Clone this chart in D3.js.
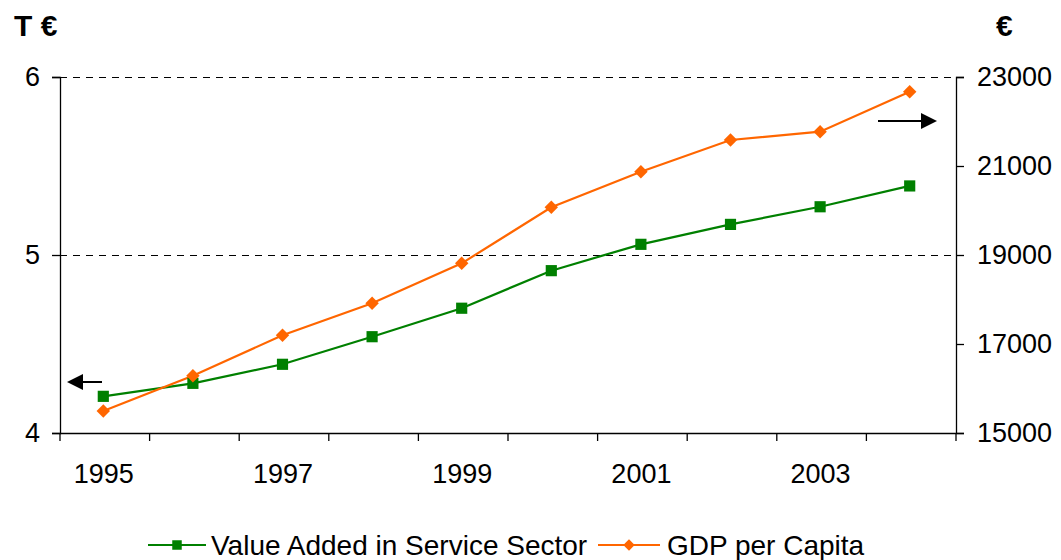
<!DOCTYPE html>
<html>
<head>
<meta charset="utf-8">
<script src="https://cdn.jsdelivr.net/npm/d3@7"></script>
<style>
  html, body { margin: 0; padding: 0; background: #fff; }
  svg { display: block; font-family: "Liberation Sans", Arial, sans-serif; }
</style>
</head>
<body>
<svg id="chart" width="1061" height="560"></svg>
<script>
// ---- data ----
const years = ["1995","1996","1997","1998","1999","2000","2001","2002","2003","2004"];
const valueAdded = [4.206, 4.279, 4.386, 4.541, 4.701, 4.912, 5.060, 5.172, 5.271, 5.388]; // T €
const gdpPerCapita = [15494, 16288, 17196, 17915, 18813, 20072, 20872, 21584, 21771, 22670]; // €
const leftTicks = [4, 5, 6];
const rightTicks = [15000, 17000, 19000, 21000, 23000];
const xLabelYears = ["1995","1997","1999","2001","2003"];
const seriesNames = ["Value Added in Service Sector", "GDP per Capita"];

(function () {
// ---- layout ----
const svg = d3.select("#chart");
const pLeft = 60, pRight = 956, pTop = 77, pBottom = 433;
const green = "#008000", orange = "#FF6600";

const x = d3.scaleBand().domain(years).range([pLeft, pRight]).padding(0);
const yL = d3.scaleLinear().domain([4, 6]).range([pBottom, pTop]);
const yR = d3.scaleLinear().domain([15000, 23000]).range([pBottom, pTop]);

// gridlines (dashed) at 5 and 6
svg.append("g").selectAll("line").data([5, 6]).join("line")
  .attr("x1", pLeft).attr("x2", pRight)
  .attr("y1", d => yL(d) + 0.5).attr("y2", d => yL(d) + 0.5)
  .attr("stroke", "#000").attr("stroke-width", 1)
  .attr("stroke-dasharray", "7,6");

// left axis
const axL = svg.append("g").attr("transform", `translate(${pLeft},0)`)
  .call(d3.axisLeft(yL).tickValues(leftTicks).tickFormat(d3.format("d")).tickSize(8).tickPadding(12));
// right axis
const axR = svg.append("g").attr("transform", `translate(${pRight},0)`)
  .call(d3.axisRight(yR).tickValues(rightTicks).tickFormat(d3.format("d")).tickSize(8).tickPadding(13));
[axL, axR].forEach(a => {
  a.select(".domain").attr("stroke", "#000").attr("stroke-width", 1.3);
  a.selectAll(".tick line").attr("stroke", "#000").attr("stroke-width", 1.3);
  a.selectAll("text").attr("font-size", 27).attr("fill", "#000").attr("font-family", "Liberation Sans, Arial, sans-serif");
});

// x axis
svg.append("line").attr("x1", pLeft).attr("x2", pRight).attr("y1", pBottom + 0.5).attr("y2", pBottom + 0.5)
  .attr("stroke", "#000").attr("stroke-width", 1.3);
const boundaries = years.map(d => x(d)).concat([pRight]);
svg.append("g").selectAll("line").data(boundaries).join("line")
  .attr("x1", d => d).attr("x2", d => d).attr("y1", pBottom).attr("y2", pBottom + 8)
  .attr("stroke", "#000").attr("stroke-width", 1.3);
svg.append("g").selectAll("text").data(xLabelYears).join("text")
  .attr("x", d => x(d) + x.bandwidth() / 2 - 1)
  .attr("y", 483)
  .attr("text-anchor", "middle")
  .attr("font-size", 27)
  .text(d => d);

// axis unit titles
svg.append("text").attr("x", 14).attr("y", 36).attr("font-size", 30).attr("font-weight", "bold").text("T €");
svg.append("text").attr("x", 996).attr("y", 36).attr("font-size", 30).attr("font-weight", "bold").text("€");

// lines
const cx = d => x(d) + x.bandwidth() / 2 - 1.5;
const lineL = d3.line().x((d, i) => cx(years[i])).y(d => yL(d));
const lineR = d3.line().x((d, i) => cx(years[i])).y(d => yR(d));

svg.append("path").datum(valueAdded).attr("d", lineL)
  .attr("fill", "none").attr("stroke", green).attr("stroke-width", 2.2);
svg.append("path").datum(gdpPerCapita).attr("d", lineR)
  .attr("fill", "none").attr("stroke", orange).attr("stroke-width", 2.2);

const sq = d3.symbol().type(d3.symbolSquare).size(125);
const dia = d3.symbol().type(d3.symbolSquare).size(90); // rotated 45° to form a square diamond

svg.append("g").selectAll("path").data(valueAdded).join("path")
  .attr("d", sq)
  .attr("transform", (d, i) => `translate(${cx(years[i])},${yL(d)})`)
  .attr("fill", green);
svg.append("g").selectAll("path").data(gdpPerCapita).join("path")
  .attr("d", dia)
  .attr("transform", (d, i) => `translate(${cx(years[i])},${yR(d)}) rotate(45)`)
  .attr("fill", orange);

// direction arrows
function arrow(x1, x2, y) {
  const dir = Math.sign(x2 - x1);
  const headLen = 16, headHalf = 8;
  svg.append("line").attr("x1", x1).attr("x2", x2 - dir * headLen + dir * 2).attr("y1", y).attr("y2", y)
    .attr("stroke", "#000").attr("stroke-width", 2);
  svg.append("path")
    .attr("d", `M${x2},${y} L${x2 - dir * headLen},${y - headHalf} L${x2 - dir * headLen},${y + headHalf} Z`)
    .attr("fill", "#000");
}
arrow(102, 67, 382);
arrow(878, 937, 121);

// legend
const legY = 545;
const legend = [
  { name: seriesNames[0], color: green, sym: sq, rot: 0, x1: 148, x2: 206, tx: 211 },
  { name: seriesNames[1], color: orange, sym: dia, rot: 45, x1: 598, x2: 660, tx: 667 }
];
legend.forEach(l => {
  svg.append("line").attr("x1", l.x1).attr("x2", l.x2).attr("y1", legY).attr("y2", legY)
    .attr("stroke", l.color).attr("stroke-width", 2.2);
  svg.append("path").attr("d", l.sym)
    .attr("transform", `translate(${(l.x1 + l.x2) / 2},${legY}) rotate(${l.rot}) scale(0.85)`)
    .attr("fill", l.color);
  svg.append("text").attr("x", l.tx).attr("y", legY + 10).attr("font-size", 28).text(l.name);
});
})();
</script>
</body>
</html>
